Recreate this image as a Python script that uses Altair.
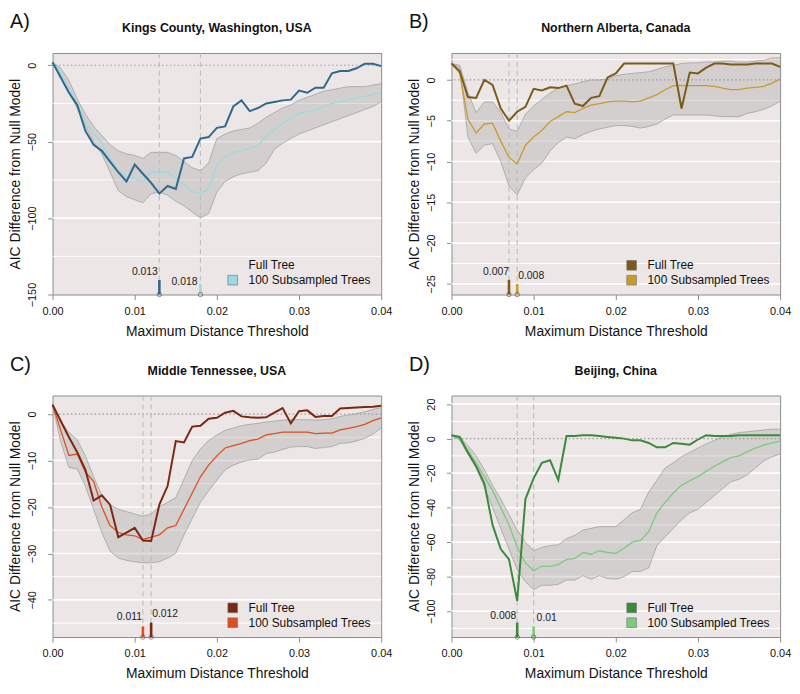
import altair as alt
import pandas as pd

# ---------------- data ----------------
X = [0.000, 0.001, 0.002, 0.003, 0.004, 0.005, 0.006, 0.007, 0.008, 0.009,
     0.010, 0.011, 0.012, 0.013, 0.014, 0.015, 0.016, 0.017, 0.018, 0.019,
     0.020, 0.021, 0.022, 0.023, 0.024, 0.025, 0.026, 0.027, 0.028, 0.029,
     0.030, 0.031, 0.032, 0.033, 0.034, 0.035, 0.036, 0.037, 0.038, 0.039,
     0.040]
X_TICKS = [0.00, 0.01, 0.02, 0.03, 0.04]

LETTERS = ["A)", "B)", "C)", "D)"]
TITLES = ["Kings County, Washington, USA", "Northern Alberta, Canada",
          "Middle Tennessee, USA", "Beijing, China"]
LEGEND_LABELS = ["Full Tree", "100 Subsampled Trees"]
X_TITLE = "Maximum Distance Threshold"
Y_TITLE = "AIC Difference from Null Model"

# Kings County
A_FULL = [2, -8, -18, -26, -43, -52, -56, -63, -70, -76,
          -65, -71, -77, -84, -79, -81, -61, -60, -48, -47,
          -41, -40, -27, -23, -30, -28, -25, -24, -23, -22.5,
          -16.6, -18, -14.7, -14.7, -5.3, -3.8, -3.8, -2, 1, 1,
          -0.6]
A_SUB = [2, -5, -15, -25, -37, -45, -51, -61, -69, -73,
         -74, -76, -70, -70, -70, -74, -78, -82.5, -84, -81,
         -65, -60, -57, -56, -54, -53, -46, -42, -38, -35,
         -31.5, -30.4, -29.4, -27, -25, -24, -22.5, -21.5, -20.4, -19,
         -17.7]
A_HI = [2, -2, -10, -22, -32, -40, -46, -52, -56, -58,
        -59, -61, -57, -57, -57, -59, -63, -67, -69, -64,
        -48, -45, -43, -42, -41, -38, -34, -31, -28, -26,
        -23, -21, -19, -17, -16, -15, -14, -14, -14, -13,
        -12]
A_LO = [2, -8, -18, -28, -40, -50, -58, -70, -82, -86,
        -88, -90, -84, -83, -85, -89, -92, -96, -100, -97,
        -83, -76, -73, -71, -70, -69, -64, -55, -51, -48,
        -45, -43, -41, -39, -37, -35, -33, -31, -29, -27,
        -24]

# Northern Alberta
B_FULL = [2, 1.1, -2.1, -2.2, 0, -0.6, -3.5, -5.0, -3.9, -3.3,
          -1.1, -1.3, -0.9, -1.0, -0.7, -2.9, -3.2, -2.2, -2.0, 0.3,
          0.8, 2.0, 2.0, 2.0, 2.0, 2.0, 2.0, 2.0, -3.5, 0.9,
          0.8, 1.5, 2.0, 2.0, 1.9, 1.9, 1.9, 2.0, 2.0, 2.0,
          1.6]
B_SUB = [2, 0.8, -4.8, -6.5, -5.4, -5.3, -7.5, -9.5, -10.3, -8.0,
         -7.0, -6.2, -5.1, -4.5, -3.9, -4.0, -3.5, -3.1, -2.9, -2.7,
         -2.6, -2.6, -2.7, -2.6, -2.2, -1.8, -1.2, -0.7, -0.7, -0.7,
         -0.7, -0.7, -0.8, -1.0, -1.2, -1.2, -1.0, -0.9, -0.8, -0.4,
         0.1]
B_HI = [2, 1.8, -1.5, -4.0, -2.7, -2.7, -4.0, -6.0, -6.3, -4.2,
        -3.2, -2.4, -1.6, -1.0, -0.7, -0.5, -0.2, 0.0, 0.0, 0.1,
        0.5, 0.7, 0.8, 0.9, 1.0, 1.3, 1.6, 1.8, 2.0, 2.1,
        2.1, 2.2, 2.2, 2.3, 2.3, 2.2, 2.2, 2.3, 2.4, 2.7,
        2.7]
B_LO = [2, 1.5, -7.0, -9.0, -8.0, -7.8, -10.0, -13.0, -14.1, -12.0,
        -11.0, -10.2, -8.7, -7.7, -7.0, -7.2, -6.7, -6.3, -6.0, -5.8,
        -5.6, -5.6, -5.7, -5.9, -5.7, -5.4, -4.8, -4.3, -4.3, -4.3,
        -4.3, -4.3, -4.4, -4.5, -4.5, -4.5, -4.1, -3.9, -3.6, -3.2,
        -2.6]

# Middle Tennessee
C_FULL = [2, -1.5, -5, -8.2, -12, -18.6, -17.5, -19.5, -26.5, -25.5,
          -24.5, -27.2, -27.3, -19.5, -15.5, -5.8, -6.1, -2.7, -2.5, -1,
          -0.8, 0.3, 0.7, -0.5, -0.7, -0.8, -0.7, 0.3, 1.3, -2.0,
          0.6, 0.8, -0.6, -0.4, -0.4, 1.2, 1.3, 1.4, 1.5, 1.6,
          1.8]
C_SUB = [2, -3.5, -8.9, -8.6, -12.5, -14.5, -20, -24, -25.5, -26,
         -26.2, -27, -26.5, -26, -24.5, -24, -20.5, -17, -13.5, -11,
         -9, -7.3, -6.8, -6.3, -5.7, -5.4, -4.5, -4.2, -3.9, -3.9,
         -3.9, -3.9, -4.2, -4.1, -4.1, -3.4, -3.1, -2.7, -2.2, -1.4,
         -0.8]
C_HI = [2, -1.5, -4, -5.5, -9, -13.5, -17.5, -19.5, -20.5, -21,
        -21.5, -22, -21.5, -20, -19, -18, -14, -10, -7.5, -5.7,
        -4.5, -3.5, -3.0, -2.5, -2.2, -2.0, -1.7, -1.5, -1.3, -1.2,
        -1.2, -1.2, -1.3, -1.2, -1.0, -0.5, -0.2, 0.1, 0.5, 1.0,
        1.4]
C_LO = [2, -6, -11.5, -11.8, -15.5, -20.5, -25.5, -29.5, -31, -31.5,
        -31.8, -32, -32, -31.8, -31, -30, -26, -22.5, -19, -16.5,
        -14.2, -12, -11, -10.3, -9.9, -9.7, -8.5, -8.2, -7.6, -7.1,
        -7.0, -7.0, -7.4, -7.2, -7.0, -6.3, -6.2, -5.8, -5.2, -4.3,
        -3.0]

# Beijing
D_FULL = [2, 1, -8, -16, -26, -50, -64, -70, -94, -35,
          -23, -14, -12.5, -24, 1.5, 1.5, 2, 2, 1.5, 1,
          0.5, 0, -1, -1, -2.5, -5, -5, -2.5, -3, -3.5,
          -0.5, 2, 1.5, 1.5, 1.5, 2, 2, 2, 2, 2,
          2]
D_SUB = [2, 0, -7, -14, -22, -30, -40, -50, -63, -72,
         -76.5, -74, -74, -73, -70, -69.5, -66, -67, -65, -66,
         -66.5, -63.5, -60, -59, -54, -43, -37, -31.5, -27, -24.5,
         -22, -19, -16, -13.5, -11, -10, -7.5, -5.5, -3.8, -2.5,
         -1.5]
D_HI = [2, 1, -4, -10, -18, -27, -35, -44, -53, -60,
        -65, -63, -62, -61.5, -58, -56, -53, -52, -51, -51,
        -51, -47, -43, -41, -31, -24, -17, -14, -10.5, -8,
        -5.5, -3, -1, 1, 2.5, 3.5, 4, 4.5, 5, 5.5,
        5.5]
D_LO = [2, -1, -9, -17, -28, -40, -52, -64, -76, -83,
        -87.5, -85, -85, -84.5, -82, -82, -79.5, -81.5, -79.5, -81,
        -81.5, -80, -77, -77, -75, -62, -57, -52, -47, -43,
        -41, -37, -33, -29, -25, -23.5, -21, -17, -13, -10.5,
        -9]

FULL = [A_FULL, B_FULL, C_FULL, D_FULL]
SUB = [A_SUB, B_SUB, C_SUB, D_SUB]
HI = [A_HI, B_HI, C_HI, D_HI]
LO = [A_LO, B_LO, C_LO, D_LO]

Y_DOMAINS = [[-150, 8], [-26.3, 3.3], [-48, 4], [-115, 25]]
Y_TICKS = [[0, -50, -100, -150], [0, -5, -10, -15, -20, -25],
           [0, -10, -20, -30, -40], [20, 0, -20, -40, -60, -80, -100]]
GRID_MAJOR = [[-50, -100], [-5, -10, -15, -20, -25],
              [-10, -20, -30, -40], [20, -20, -40, -60, -80, -100]]
GRID_MINOR = [[-25, -75, -125], [2.5, -2.5, -7.5, -12.5, -17.5, -22.5],
              [-5, -15, -25, -35, -45], [10, -10, -30, -50, -70, -90, -110]]

THR_FULL = [0.013, 0.007, 0.012, 0.008]
THR_SUB = [0.018, 0.008, 0.011, 0.010]
THR_LABEL_FULL = ["0.013", "0.007", "0.012", "0.008"]
THR_LABEL_SUB = ["0.018", "0.008", "0.011", "0.01"]
MARK_TOP_FULL = [-140.5, -24.5, -44.9, -106.6]
MARK_TOP_SUB = [-143.0, -25.0, -45.7, -108.8]

# ---------------- styles ----------------
FULL_COLORS = ["#2D6A8E", "#7B5B1A", "#7A2812", "#3B8A3B"]
SUB_COLORS = ["#9ADAE0", "#C99B2B", "#DE4F1E", "#7DCB7D"]
SHOW_FULL_SQUARE = [False, True, True, True]
# (align, dx, dy) for the threshold labels
LABEL_FULL_STYLE = [("right", -1.5, -5), ("right", 0, -5), ("left", 1, -6), ("right", -1, -4)]
LABEL_SUB_STYLE = [("right", -3, 1), ("left", 1, -5), ("right", -1, -6), ("left", 3, -5)]

FONT = "Liberation Sans"
BG = "#ECE6E6"
BOX = "#8C8C8C"
BAND_FILL = "#8F8F8F"
BAND_OPACITY = 0.27
EDGE = "#9A9A9A"
PW, PH = 332, 244
COL_GAP, ROW_GAP = 71, 102

ONE = pd.DataFrame({"k": [0]})


def panel(i):
    xs = alt.Scale(domain=[0, 0.04], nice=False, zero=False)
    ys = alt.Scale(domain=Y_DOMAINS[i], nice=False, zero=False)
    ymin = Y_DOMAINS[i][0]
    df = pd.DataFrame({"x": X, "full": FULL[i], "sub": SUB[i], "lo": LO[i], "hi": HI[i]})

    xax = alt.Axis(values=X_TICKS, format=".2f", title=X_TITLE, grid=False, domain=False,
                   tickSize=5, tickColor=BOX, tickWidth=1, labelFontSize=11,
                   labelColor="#111", labelPadding=6, labelFlush=False, titleFontSize=14,
                   titleFontWeight="normal", titleColor="#111", titlePadding=8)
    yax = alt.Axis(values=Y_TICKS[i], format="d", title=Y_TITLE, grid=False, domain=False,
                   tickSize=5, tickColor=BOX, tickWidth=1, labelAngle=270,
                   labelFontSize=11, labelColor="#111", labelPadding=10, labelFlush=False,
                   titleFontSize=14, titleFontWeight="normal", titleColor="#111",
                   titlePadding=4)

    def xq(f):
        return alt.X(f, type="quantitative", scale=xs, axis=xax)

    def yq(f):
        return alt.Y(f, type="quantitative", scale=ys, axis=yax)

    layers = []
    layers.append(alt.Chart(pd.DataFrame({"g": GRID_MINOR[i]})).mark_rule(
        color="white", strokeWidth=1.0).encode(y=yq("g")))
    layers.append(alt.Chart(pd.DataFrame({"g": GRID_MAJOR[i]})).mark_rule(
        color="white", strokeWidth=1.6).encode(y=yq("g")))
    layers.append(alt.Chart(df).mark_area(color=BAND_FILL, opacity=BAND_OPACITY).encode(
        x=xq("x"), y=yq("lo"), y2="hi"))
    layers.append(alt.Chart(df).mark_line(color=EDGE, strokeWidth=0.7).encode(
        x=xq("x"), y=yq("lo")))
    layers.append(alt.Chart(df).mark_line(color=EDGE, strokeWidth=0.7).encode(
        x=xq("x"), y=yq("hi")))
    layers.append(alt.Chart(pd.DataFrame({"z": [0]})).mark_rule(
        color="#9C9C9C", strokeDash=[1.5, 2.5], strokeWidth=1.2).encode(y=yq("z")))
    layers.append(alt.Chart(pd.DataFrame({"t": [THR_FULL[i], THR_SUB[i]]})).mark_rule(
        color="#BDBDBD", strokeDash=[5, 4], strokeWidth=1.1).encode(x=xq("t")))
    layers.append(alt.Chart(df).mark_line(color=SUB_COLORS[i], strokeWidth=1.3).encode(
        x=xq("x"), y=yq("sub")))
    layers.append(alt.Chart(df).mark_line(color=FULL_COLORS[i], strokeWidth=2.0).encode(
        x=xq("x"), y=yq("full")))

    mk = pd.DataFrame({"t": [THR_SUB[i], THR_FULL[i]], "b": [ymin, ymin],
                       "top": [MARK_TOP_SUB[i], MARK_TOP_FULL[i]],
                       "c": [SUB_COLORS[i], FULL_COLORS[i]]})
    layers.append(alt.Chart(mk).mark_rule(strokeWidth=2.6).encode(
        x=xq("t"), y=yq("b"), y2="top", color=alt.Color("c:N", scale=None)))
    layers.append(alt.Chart(mk).mark_point(shape="circle", filled=False, size=20,
                                           color="#505050", strokeWidth=0.9).encode(
        x=xq("t"), y=yq("b")))

    for thr, top, lab, st in [(THR_FULL[i], MARK_TOP_FULL[i], THR_LABEL_FULL[i], LABEL_FULL_STYLE[i]),
                              (THR_SUB[i], MARK_TOP_SUB[i], THR_LABEL_SUB[i], LABEL_SUB_STYLE[i])]:
        layers.append(alt.Chart(pd.DataFrame({"t": [thr], "top": [top], "lab": [lab]})).mark_text(
            align=st[0], dx=st[1], dy=st[2], baseline="alphabetic", fontSize=10.5,
            color="#222").encode(x=xq("t"), y=yq("top"), text="lab:N"))

    # legend
    rows = [(PH - 29.5, FULL_COLORS[i], SHOW_FULL_SQUARE[i], LEGEND_LABELS[0]),
            (PH - 14.5, SUB_COLORS[i], True, LEGEND_LABELS[1])]
    for yy, col, show, lab in rows:
        if show:
            layers.append(alt.Chart(ONE).mark_square(size=95, fill=col, opacity=1,
                                                     stroke="#6E6E6E", strokeWidth=0.6).encode(
                x=alt.value(182), y=alt.value(yy)))
        layers.append(alt.Chart(ONE).mark_text(text=lab, align="left", baseline="middle",
                                               fontSize=12, color="#111").encode(
            x=alt.value(198), y=alt.value(yy)))

    layers.append(alt.Chart(ONE).mark_text(text=LETTERS[i], align="left", baseline="alphabetic",
                                           fontSize=20, color="#111").encode(
        x=alt.value(-43), y=alt.value(-25)))
    layers.append(alt.Chart(ONE).mark_text(text=TITLES[i], align="center", baseline="alphabetic",
                                           fontSize=12.5, fontWeight="bold", color="#111").encode(
        x=alt.value(PW / 2), y=alt.value(-21)))

    return alt.layer(*layers).properties(width=PW, height=PH)


chart = alt.concat(*[panel(i) for i in range(4)], columns=2,
                   spacing={"row": ROW_GAP, "column": COL_GAP},
                   bounds="flush").properties(padding=0).configure(
    font=FONT).configure_view(fill=BG, stroke=BOX, strokeWidth=1)

chart.save("out.html", embed_options={"renderer": "svg", "actions": False})
